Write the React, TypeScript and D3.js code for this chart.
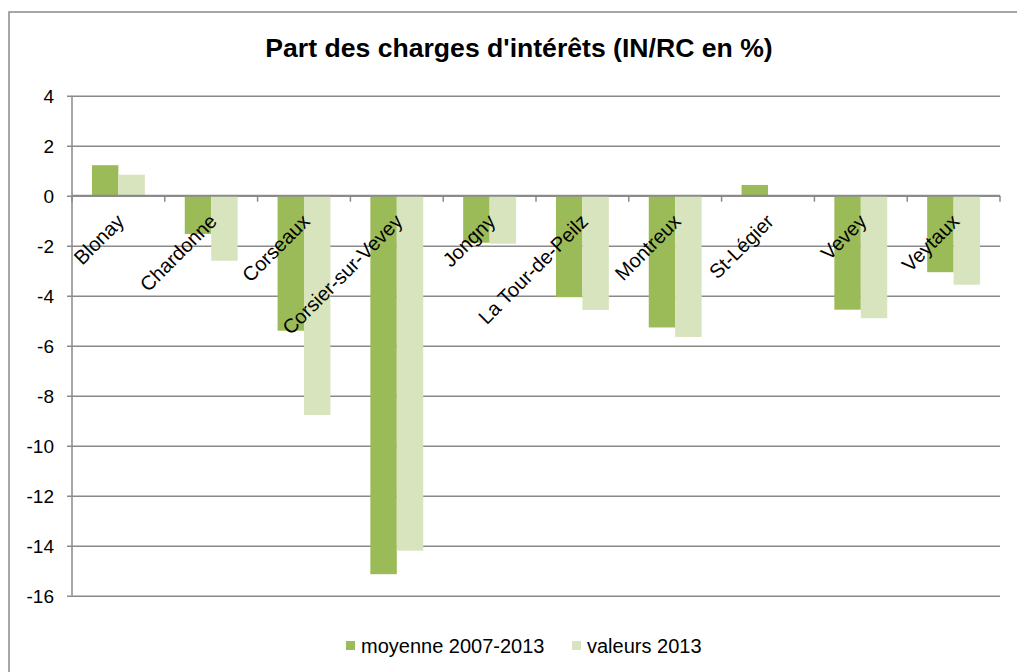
import { useEffect, useRef } from "react";
import * as d3 from "d3";

const communes = [
  "Blonay",
  "Chardonne",
  "Corseaux",
  "Corsier-sur-Vevey",
  "Jongny",
  "La Tour-de-Peilz",
  "Montreux",
  "St-Légier",
  "Vevey",
  "Veytaux",
];
const moyenne = [1.22, -1.53, -5.4, -15.14, -1.88, -4.06, -5.27, 0.43, -4.56, -3.06];
const valeurs2013 = [0.84, -2.6, -8.77, -14.2, -1.92, -4.57, -5.65, 0, -4.9, -3.56];
const seriesNames = ["moyenne 2007-2013", "valeurs 2013"];
const yTicks = [4, 2, 0, -2, -4, -6, -8, -10, -12, -14, -16];

const W = 1017;
const H = 672;
const DARK = "#9BBB59";
const LIGHT = "#D7E4BD";
const GRID = "#8a8a8a";
const FONT = "'Liberation Sans', Arial, sans-serif";

export default function App() {
  const svgRef = useRef<SVGSVGElement>(null);

  useEffect(() => {
    const svg = d3.select(svgRef.current!);
    svg.selectAll("*").remove();

    const margin = { top: 95.7, right: 17, bottom: 76.3, left: 72 };
    const innerW = W - margin.left - margin.right;
    const innerH = H - margin.top - margin.bottom;

    // chart frame (cut off at right / bottom like the source)
    svg
      .append("rect")
      .attr("x", 9)
      .attr("y", 12)
      .attr("width", 1040)
      .attr("height", 700)
      .attr("fill", "white")
      .attr("stroke", GRID)
      .attr("stroke-width", 1.5);

    svg
      .append("text")
      .attr("x", 519)
      .attr("y", 57)
      .attr("text-anchor", "middle")
      .attr("font-family", FONT)
      .attr("font-weight", "bold")
      .attr("font-size", "26.6px")
      .attr("fill", "#000")
      .text("Part des charges d'intérêts (IN/RC en %)");

    const g = svg
      .append("g")
      .attr("transform", `translate(${margin.left},${margin.top})`);

    const y = d3.scaleLinear().domain([-16, 4]).range([innerH, 0]);
    const x0 = d3
      .scaleBand<string>()
      .domain(communes)
      .range([0, innerW])
      .paddingInner(0.43)
      .paddingOuter(0.215);
    const x1 = d3
      .scaleBand<number>()
      .domain([0, 1])
      .range([0, x0.bandwidth()]);

    // gridlines + left ticks
    const yAxis = g.append("g").call(
      d3
        .axisLeft(y)
        .tickValues(yTicks)
        .tickSize(-innerW)
        .tickFormat(() => ""),
    );
    yAxis.select(".domain").remove();
    yAxis
      .selectAll(".tick line")
      .attr("x1", -5)
      .attr("stroke", GRID)
      .attr("stroke-width", 1.5);

    yAxis
      .selectAll(".tick")
      .append("text")
      .attr("x", -18)
      .attr("dy", "0.35em")
      .attr("text-anchor", "end")
      .attr("fill", "#000")
      .attr("font-family", FONT)
      .attr("font-size", "19px")
      .text((d) => String(d));

    g.append("line")
      .attr("x1", 0)
      .attr("x2", 0)
      .attr("y1", 0)
      .attr("y2", innerH)
      .attr("stroke", GRID)
      .attr("stroke-width", 1.5);

    // bars
    const series = [moyenne, valeurs2013];
    const colors = [DARK, LIGHT];
    series.forEach((vals, si) => {
      g.append("g")
        .selectAll("rect")
        .data(communes)
        .enter()
        .append("rect")
        .attr("x", (c) => x0(c)! + x1(si)!)
        .attr("width", x1.bandwidth())
        .attr("y", (_, i) => y(Math.max(0, vals[i])))
        .attr("height", (_, i) => Math.abs(y(vals[i]) - y(0)))
        .attr("fill", colors[si]);
    });

    // category axis at zero
    const step = innerW / communes.length;
    const xAxis = g.append("g").attr("transform", `translate(0,${y(0)})`);
    xAxis
      .append("line")
      .attr("x1", 0)
      .attr("x2", innerW)
      .attr("stroke", GRID)
      .attr("stroke-width", 2);
    xAxis
      .selectAll(".cat-tick")
      .data(d3.range(communes.length + 1))
      .enter()
      .append("line")
      .attr("x1", (i) => i * step)
      .attr("x2", (i) => i * step)
      .attr("y1", 0)
      .attr("y2", 6)
      .attr("stroke", GRID)
      .attr("stroke-width", 1.5);

    xAxis
      .selectAll(".cat-label")
      .data(communes)
      .enter()
      .append("text")
      .attr(
        "transform",
        (c) => `translate(${x0(c)! + x0.bandwidth() / 2 + 7},${27}) rotate(-45)`,
      )
      .attr("text-anchor", "end")
      .attr("fill", "#000")
      .attr("font-family", FONT)
      .attr("font-size", "20px")
      .text((c) => c);

    // legend
    const legend = svg.append("g").attr("transform", `translate(0,${645.5})`);
    const legendX = [346, 572];
    seriesNames.forEach((name, i) => {
      legend
        .append("rect")
        .attr("x", legendX[i])
        .attr("y", -4.5)
        .attr("width", 9)
        .attr("height", 9)
        .attr("fill", colors[i]);
      legend
        .append("text")
        .attr("x", legendX[i] + 15)
        .attr("dy", "0.35em")
        .attr("fill", "#000")
        .attr("font-family", FONT)
        .attr("font-size", "20px")
        .text(name);
    });
  }, []);

  return (
    <svg
      ref={svgRef}
      width={W}
      height={H}
      style={{ position: "absolute", left: 0, top: 0, display: "block", background: "white" }}
    />
  );
}
